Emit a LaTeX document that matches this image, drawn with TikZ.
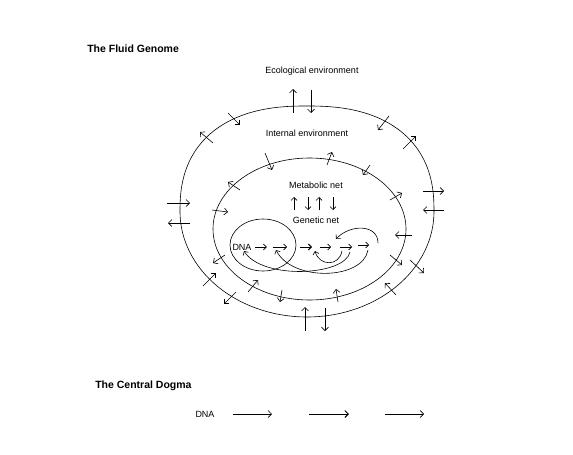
\documentclass[tikz,border=0pt]{standalone}
\usepackage{fontspec}
\setmainfont{Liberation Sans}
\usetikzlibrary{arrows.meta}
\begin{document}
\begin{tikzpicture}[x=1pt,y=-1pt,line width=0.6pt,
  ar/.style={-{Straight Barb[length=3.5pt,width=7pt]},line width=0.6pt},
  sar/.style={-{Straight Barb[length=3pt,width=6pt]},line width=0.6pt},
  lbl/.style={font=\fontsize{9}{10}\selectfont,inner sep=0pt},
  ttl/.style={font=\bfseries\fontsize{10.5}{12}\selectfont,inner sep=0pt,anchor=west}]
\useasboundingbox (0,0) rectangle (573,455);
% titles and labels
\node[ttl] (t1) at (87,49) {The Fluid Genome};
\node[lbl] (eco) at (312,71) {Ecological environment};
\node[lbl] (int) at (307,133) {Internal environment};
\node[lbl] (met) at (316,185) {Metabolic net};
\node[lbl] (gen) at (316,220) {Genetic net};
\node[lbl] (dna) at (242,247) {DNA};
\node[ttl] (t2) at (95,386) {The Central Dogma};
\node[lbl] (dna2) at (205,414) {DNA};
% outer ellipse (boxier top half)
\draw plot[domain=0:180,samples=91,variable=\t]
  ({307+127*cos(\t)*(abs(cos(\t))+0.0001)^(2/2.4-1)},{211.5-105.5*(abs(sin(\t))+0.0001)^(2/2.4)})
  -- plot[domain=180:360,samples=91,variable=\t]
  ({307+127*cos(\t)},{211.5-105.5*sin(\t)}) -- cycle;
% inner ellipse
\draw (309.5,229) ellipse [x radius=96.5,y radius=71];
% genetic net circle
\draw (263,245) ellipse [x radius=33,y radius=26];
% arrows across outer ellipse
\foreach \a/\b/\c/\d in {293/113/293/89, 311/90/311/113, 228/113/240/125, 213/143/200/132,
  389/116/378/130, 403/149/416/136, 423/191/444/191, 444/210/423/210, 410/260/424/273,
  396/295/385/283, 305/331/305/307, 325/308/325/331, 236/292/224/304, 203/286/216/273,
  167/203/190/203, 190/223/168/223}
  \draw[ar] (\a,\b) -- (\c,\d);
% arrows across inner ellipse
\foreach \a/\b/\c/\d in {265/153/272/170, 327/165/332/152, 370/165/363/175, 240/190/228/182,
  390/200/402/193, 212/210/228/212, 412/235/395/235, 225/255/213/263, 390/255/402/265,
  248/292/258/280, 282/290/280/302, 338/302/336/289}
  \draw[ar] (\a,\b) -- (\c,\d);
% metabolic <-> genetic arrows
\draw[sar] (294,210) -- (294,197);
\draw[sar] (308,197) -- (308,210);
\draw[sar] (319,210) -- (319,197);
\draw[sar] (333,197) -- (333,210);
% genetic net chain
\draw[sar] ([xshift=3pt]dna.east) -- ++(12,0);
\draw[sar] (273,247) -- (287,247);
\draw[sar,line width=0.9pt] (300,247) -- (312,247);
\draw[sar] (320,247) -- (331,247);
\draw[sar] (340,247) -- (352,247);
\draw[sar] (358,245) -- (369,245);
% feedback curves
\draw[sar] (350,252) .. controls (345,276) and (262,280) .. (244,251);
\draw[sar] (368,250) .. controls (363,280) and (292,282) .. (276,250);
\draw[sar] (342,251) .. controls (339,267) and (319,266) .. (315,251);
\draw[sar] (378,243) .. controls (378,224) and (350,224) .. (336,239);
% central dogma
\draw[ar] (233,414) -- (272,414);
\draw[ar,line width=0.9pt] (309,414) -- (349,414);
\draw[ar] (385,414) -- (424,414);
\end{tikzpicture}
\end{document}
